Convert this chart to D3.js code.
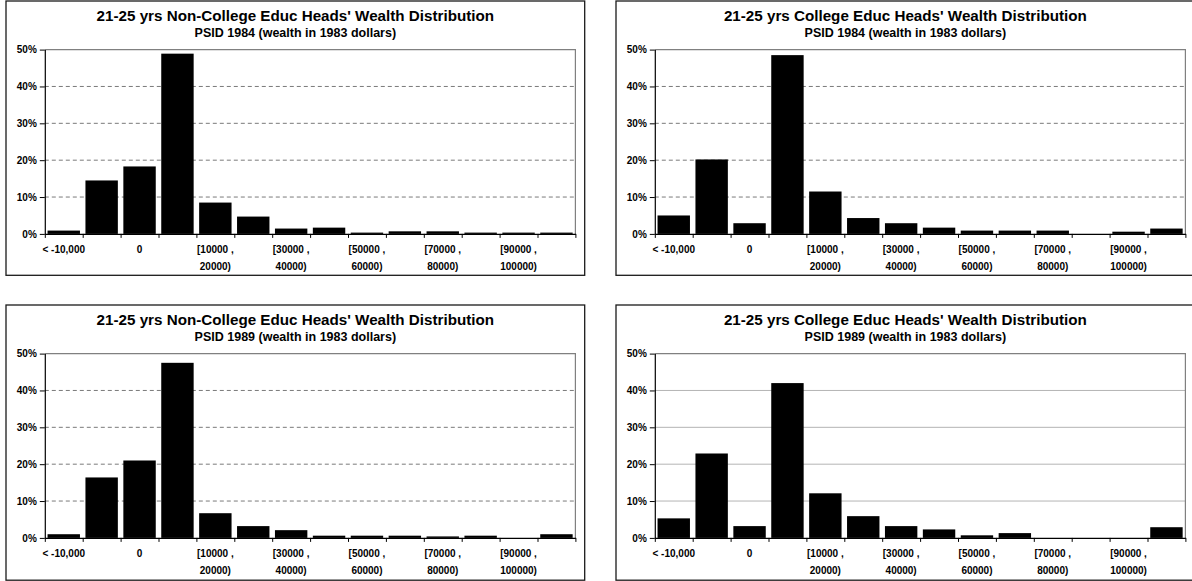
<!DOCTYPE html>
<html>
<head>
<meta charset="utf-8">
<script src="https://cdn.jsdelivr.net/npm/d3@7/dist/d3.min.js"></script>
<style>
  html, body { margin: 0; padding: 0; background: #ffffff; }
  svg { display: block; }
  text { font-family: "Liberation Sans", Arial, sans-serif; font-weight: bold; fill: #000; }
</style>
</head>
<body>
<svg id="chart" width="1192" height="581"></svg>
<script>
// ---- data ----
const categories = [
  "< -10,000", "[-10000 , 0)", "0", "(0 , 10000)", "[10000 , 20000)", "[20000 , 30000)",
  "[30000 , 40000)", "[40000 , 50000)", "[50000 , 60000)", "[60000 , 70000)",
  "[70000 , 80000)", "[80000 , 90000)", "[90000 , 100000)", ">= 100000"
];
const tickLabels = [
  ["< -10,000"], [], ["0"], [], ["[10000 ,", "20000)"], [],
  ["[30000 ,", "40000)"], [], ["[50000 ,", "60000)"], [],
  ["[70000 ,", "80000)"], [], ["[90000 ,", "100000)"], []
];
const yTicks = [0, 10, 20, 30, 40, 50];

const nonCollege1984 = [0.9, 14.5, 18.3, 48.9, 8.5, 4.7, 1.45, 1.7, 0.35, 0.7, 0.7, 0.35, 0.35, 0.35];
const college1984    = [5.0, 20.2, 2.9, 48.5, 11.5, 4.3, 2.9, 1.7, 0.9, 0.9, 0.9, 0.0, 0.6, 1.45];
const nonCollege1989 = [1.0, 16.4, 21.0, 47.5, 6.7, 3.2, 2.1, 0.6, 0.6, 0.6, 0.4, 0.6, 0.0, 1.0];
const college1989    = [5.3, 22.9, 3.2, 42.0, 12.1, 5.9, 3.2, 2.3, 0.7, 1.3, 0.0, 0.0, 0.0, 2.9];

const titles = [
  "21-25 yrs Non-College Educ Heads' Wealth Distribution",
  "21-25 yrs College Educ Heads' Wealth Distribution",
  "21-25 yrs Non-College Educ Heads' Wealth Distribution",
  "21-25 yrs College Educ Heads' Wealth Distribution"
];
const subtitles = [
  "PSID 1984 (wealth in 1983 dollars)",
  "PSID 1984 (wealth in 1983 dollars)",
  "PSID 1989 (wealth in 1983 dollars)",
  "PSID 1989 (wealth in 1983 dollars)"
];
const seriesList = [nonCollege1984, college1984, nonCollege1989, college1989];

// ---- layout ----
const panels = [
  { x: 6,   y: 1,   w: 578.7, h: 274.3, dashed: true },
  { x: 616, y: 1,   w: 578.7, h: 274.3, dashed: true },
  { x: 6,   y: 305, w: 578.7, h: 275.2, dashed: true },
  { x: 616, y: 305, w: 578.7, h: 275.2, dashed: false }
];
const plotOff = { left: 38.8, top: 48.6, width: 530.6, height: 184.3 };

const svg = d3.select("#chart");

panels.forEach((p, i) => {
  const g = svg.append("g").attr("transform", `translate(${p.x},${p.y})`);

  // outer frame
  g.append("rect")
    .attr("x", 0).attr("y", 0).attr("width", p.w).attr("height", p.h)
    .attr("fill", "#fff").attr("stroke", "#1a1a1a").attr("stroke-width", 1.3);

  // titles
  const cx = p.w / 2;
  g.append("text").attr("x", cx).attr("y", 20)
    .attr("text-anchor", "middle").style("font-size", "15.2px").text(titles[i]);
  g.append("text").attr("x", cx).attr("y", 35.9)
    .attr("text-anchor", "middle").style("font-size", "12.5px").text(subtitles[i]);

  const W = plotOff.width, H = plotOff.height;
  const pg = g.append("g").attr("transform", `translate(${plotOff.left},${plotOff.top})`);

  const x = d3.scaleBand().domain(categories).range([0, W])
    .paddingInner(0.145).paddingOuter(0.0725);
  const xb = d3.scaleLinear().domain([0, categories.length]).range([0, W]);
  const y = d3.scaleLinear().domain([0, 50]).range([H, 0]);

  // gridlines
  pg.append("g").selectAll("line")
    .data(yTicks.filter(d => d > 0 && d < 50))
    .join("line")
    .attr("x1", 0).attr("x2", W)
    .attr("y1", d => y(d)).attr("y2", d => y(d))
    .attr("stroke", p.dashed ? "#7a7a7a" : "#b4b4b4")
    .attr("stroke-width", 1)
    .attr("stroke-dasharray", p.dashed ? "4,3" : null);

  // plot frame top & right
  pg.append("path")
    .attr("d", `M0,${y(50)}H${W}V${H}`)
    .attr("fill", "none").attr("stroke", "#808080").attr("stroke-width", 1.2);

  // bars
  pg.append("g").selectAll("rect")
    .data(seriesList[i].map((v, k) => ({ c: categories[k], v })))
    .join("rect")
    .attr("x", d => x(d.c))
    .attr("width", x.bandwidth())
    .attr("y", d => y(d.v))
    .attr("height", d => H - y(d.v))
    .attr("fill", "#000");

  // y axis
  const ya = pg.append("g").call(
    d3.axisLeft(y).tickValues(yTicks).tickSize(5).tickSizeOuter(0).tickPadding(3)
      .tickFormat(d => d + "%"));
  ya.select(".domain").attr("stroke", "#000").attr("stroke-width", 1.2);
  ya.selectAll(".tick line").attr("stroke", "#000");
  ya.selectAll(".tick text").style("font-size", "10px")
    .style("font-family", "'Liberation Sans', Arial, sans-serif").style("font-weight", "bold");

  // x axis (ticks at category boundaries)
  const xa = pg.append("g").attr("transform", `translate(0,${H})`).call(
    d3.axisBottom(xb).tickValues(d3.range(categories.length + 1)).tickSize(4)
      .tickSizeOuter(0).tickFormat(""));
  xa.select(".domain").attr("stroke", "#000").attr("stroke-width", 1.2);
  xa.selectAll(".tick line").attr("stroke", "#000");

  // category labels
  const lbl = pg.append("g").selectAll("text")
    .data(tickLabels.map((lines, k) => ({ c: categories[k], lines })))
    .join("text")
    .attr("text-anchor", "middle")
    .attr("x", d => x(d.c) + x.bandwidth() / 2)
    .attr("y", H + 19)
    .style("font-size", "10px");
  lbl.selectAll("tspan")
    .data(d => d.lines.map((t, j) => ({ t, j, cx: x(d.c) + x.bandwidth() / 2 })))
    .join("tspan")
    .attr("x", d => d.cx)
    .attr("dy", d => d.j === 0 ? 0 : 17.2)
    .text(d => d.t);
});
</script>
</body>
</html>
